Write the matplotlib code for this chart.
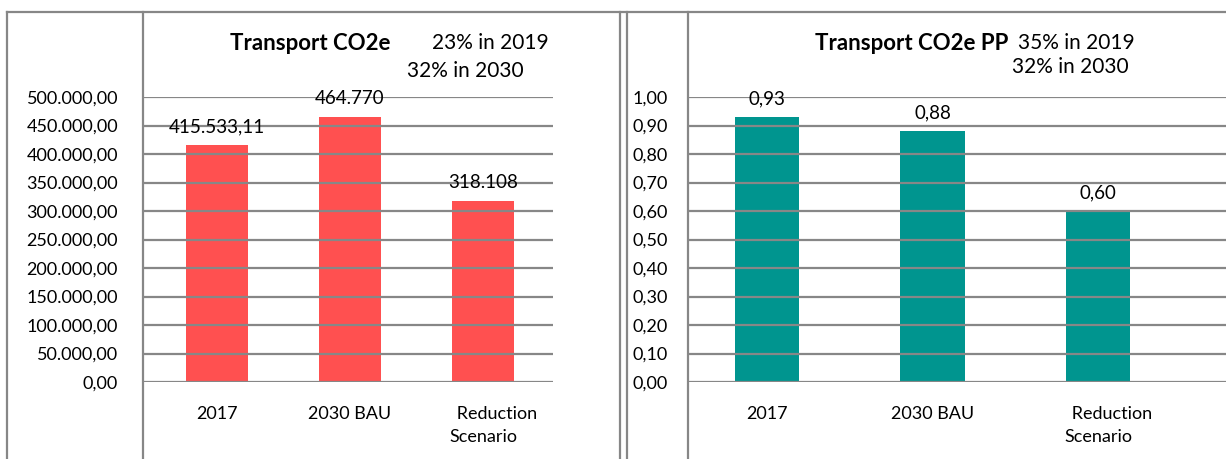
import matplotlib
matplotlib.use("Agg")
from matplotlib import pyplot as plt
from matplotlib.lines import Line2D

plt.rcParams['font.family'] = ['Lato', 'DejaVu Sans']

categories = ["2017", "2030 BAU", "      Reduction\nScenario"]

co2_values = [415533.11, 464770, 318108]
co2_decimals = [2, 0, 0]
co2_ticks = [0, 50000, 100000, 150000, 200000, 250000, 300000, 350000, 400000, 450000, 500000]

pp_values = [0.93, 0.88, 0.60]
pp_ticks = [0.0, 0.1, 0.2, 0.3, 0.4, 0.5, 0.6, 0.7, 0.8, 0.9, 1.0]

RED = '#FF5050'
TEAL = '#00958F'
GRID = '#878787'
W, H = 1226, 459


def eu_number(value: float, decimals: int) -> str:
    """format 415533.11 as 415.533,11"""
    s = f"{value:,.{decimals}f}"
    return s.replace(",", "X").replace(".", ",").replace("X", ".")


def px_box(x0, y0, x1, y1):
    # pixel box (top-left origin) -> figure fraction rect
    return [x0 / W, 1 - y1 / H, (x1 - x0) / W, (y1 - y0) / H]


def setup_axes(ax, ticks, decimals, xlim):
    ax.set_xlim(*xlim)
    ax.set_ylim(ticks[0], ticks[-1])
    for s in ax.spines.values():
        s.set_visible(False)
    ax.set_axisbelow(False)
    ax.yaxis.grid(True, color=GRID, linewidth=1.6)
    ax.set_yticks(ticks)
    ax.tick_params(length=0, labelsize=13, colors='black')
    ax.set_xticks(range(len(categories)))
    ax.set_xticklabels(categories, fontsize=13, linespacing=1.6)
    ax.tick_params(axis='x', pad=17)
    return [eu_number(t, decimals) for t in ticks]


fig = plt.figure(figsize=(W / 100, H / 100), dpi=100)

# left: absolute emissions
ax1 = fig.add_axes(px_box(143, 97, 553, 382))
labels = setup_axes(ax1, co2_ticks, 2, (-0.553, 2.523))
ax1.set_yticklabels(labels)
ax1.tick_params(axis='y', pad=18)
ax1.bar(range(3), co2_values, width=0.465, color=RED, zorder=1)
for i, v in enumerate(co2_values):
    ax1.annotate(eu_number(v, co2_decimals[i]), (i, v), xytext=(0, 7),
                 textcoords='offset points', ha='center', va='bottom', fontsize=13.5)

# right: per person
ax2 = fig.add_axes(px_box(688, 97, 1226, 382))
labels = setup_axes(ax2, pp_ticks, 2, (-0.477, 2.773))
ax2.set_yticklabels(labels, ha='left')
ax2.tick_params(axis='y', pad=40)
ax2.bar(range(3), pp_values, width=0.387, color=TEAL, zorder=1)
for i, v in enumerate(pp_values):
    ax2.annotate(eu_number(v, 2), (i, v), xytext=(0, 7),
                 textcoords='offset points', ha='center', va='bottom', fontsize=13.5)


# titles
def fig_text(x, y, s, size=15, **kw):
    fig.text(x / W, 1 - y / H, s, ha='left', va='center', fontsize=size, **kw)


fig_text(230, 43, "Transport CO2e", size=16, fontweight='bold')
fig_text(432, 43, "23% in 2019")
fig_text(407, 71, "32% in 2030")
fig_text(815, 43, "Transport CO2e PP", size=16, fontweight='bold')
fig_text(1018, 43, "35% in 2019")
fig_text(1012, 67, "32% in 2030")


# sheet cell borders
def px_line(xs, ys):
    fig.add_artist(Line2D([x / W for x in xs], [1 - y / H for y in ys],
                          color=GRID, linewidth=1.6))


px_line([7, W], [12, 12])
for x in [7, 143, 620, 627, 688]:
    px_line([x, x], [12, H])

fig.savefig("out.png", dpi=100)
